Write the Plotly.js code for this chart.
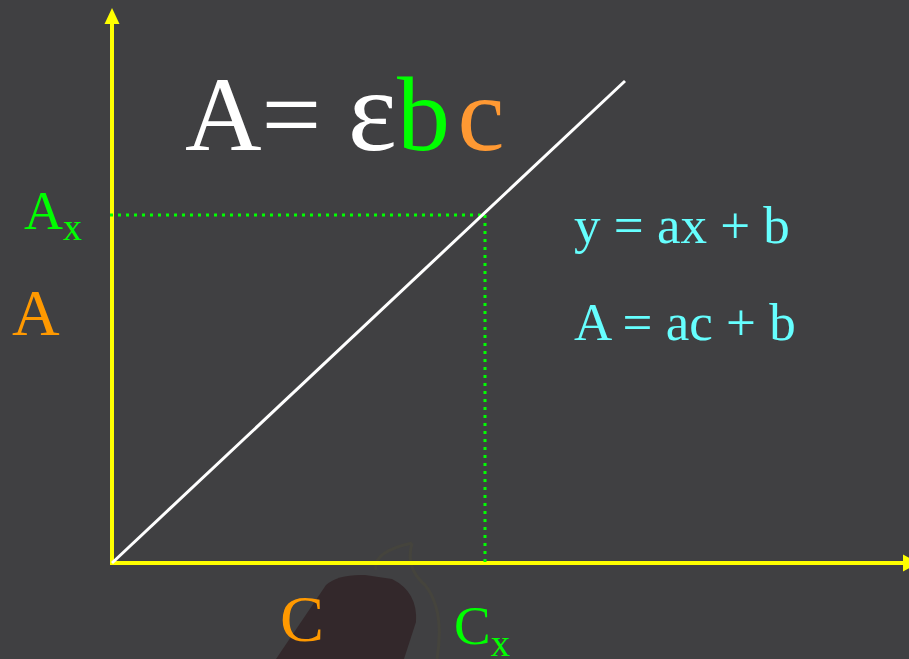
<!DOCTYPE html>
<html>
<head>
<meta charset="utf-8">
<script src="https://cdn.plot.ly/plotly-3.0.1.min.js"></script>
<style>
  html, body { margin: 0; padding: 0; background: #404042; }
  #chart { width: 909px; height: 659px; }
</style>
</head>
<body>
<div id="chart"></div>
<script>
// Beer-Lambert calibration line: absorbance grows linearly with concentration
const concentration = [0, 513];
const absorbance = [0, 482];

// the unknown sample
const sampleConc = [373];
const sampleAbs = [348];

// axis extents (with arrow heads)
const xAxisEnd = 791;
const yAxisEnd = 539;

const BG = '#404042';
const YELLOW = '#ffff00';
const GREEN = '#00ff00';
const ORANGE = '#ff9900';
const CYAN = '#66ffff';
const SERIF = 'Liberation Serif';

// plot area is 909 x 659 with the origin placed 112px from the left and 96px from the bottom
const W = 909, H = 659, OX = 112, OY = 563;
const xRange = [-OX, W - OX];
const yRange = [-(H - OY), OY];
const px = x => x / W;          // pixel -> paper x
const py = y => 1 - y / H;      // pixel -> paper y

const dotted = { color: GREEN, width: 3, dash: '3px,5px' };

const traces = [
  // reading the sample: across from the absorbance axis, then down to the concentration axis
  {
    x: [-2, sampleConc[0]],
    y: [sampleAbs[0], sampleAbs[0]],
    mode: 'lines', line: dotted, hoverinfo: 'skip'
  },
  {
    x: [sampleConc[0], sampleConc[0]],
    y: [sampleAbs[0], 0],
    mode: 'lines', line: dotted, hoverinfo: 'skip'
  },
  {
    x: concentration,
    y: absorbance,
    mode: 'lines',
    line: { color: '#ffffff', width: 3 },
    hoverinfo: 'skip'
  }
];

const label = (text, x, y, size, color) => ({
  text: text,
  x: px(x), y: py(y),
  xref: 'paper', yref: 'paper',
  xanchor: 'left', yanchor: 'top',
  showarrow: false,
  borderpad: 0, borderwidth: 0,
  font: { family: SERIF, size: size, color: color }
});

const layout = {
  width: W, height: H,
  margin: { l: 0, r: 0, t: 0, b: 0 },
  paper_bgcolor: BG,
  plot_bgcolor: BG,
  showlegend: false,
  font: { family: SERIF },
  xaxis: { range: xRange, visible: false, fixedrange: true },
  yaxis: { range: yRange, visible: false, fixedrange: true },
  shapes: [
    // faint logo behind the lower axis
    {
      type: 'path', xref: 'paper', yref: 'paper', layer: 'below',
      path: 'M ' + px(276) + ',' + py(659) + ' L ' + px(326) + ',' + py(585) +
            ' Q ' + px(338) + ',' + py(574) + ' ' + px(365) + ',' + py(575) +
            ' L ' + px(392) + ',' + py(579) + ' Q ' + px(418) + ',' + py(592) + ' ' + px(416) + ',' + py(622) +
            ' L ' + px(404) + ',' + py(659) + ' Z',
      fillcolor: '#33282b', line: { width: 0 }
    },
    {
      type: 'path', xref: 'paper', yref: 'paper', layer: 'below',
      path: 'M ' + px(412) + ',' + py(543) + ' Q ' + px(372) + ',' + py(552) + ' ' + px(376) + ',' + py(570) +
            ' M ' + px(412) + ',' + py(543) + ' Q ' + px(405) + ',' + py(568) + ' ' + px(425) + ',' + py(585) +
            ' Q ' + px(445) + ',' + py(610) + ' ' + px(437) + ',' + py(659),
      line: { color: '#45443d', width: 3 }
    },
    // axes, kept under the plotted lines
    { type: 'line', layer: 'below', x0: 0, y0: -2, x1: 0, y1: yAxisEnd, line: { color: YELLOW, width: 4 } },
    { type: 'line', layer: 'below', x0: -2, y0: 0, x1: xAxisEnd, y1: 0, line: { color: YELLOW, width: 4 } },
    {
      type: 'path', layer: 'below',
      path: 'M -7.5,' + yAxisEnd + ' L 7.5,' + yAxisEnd + ' L 0,' + (yAxisEnd + 16) + ' Z',
      fillcolor: YELLOW, line: { width: 0 }
    },
    {
      type: 'path', layer: 'below',
      path: 'M ' + xAxisEnd + ',-8.5 L ' + xAxisEnd + ',8.5 L ' + (xAxisEnd + 16) + ',0 Z',
      fillcolor: YELLOW, line: { width: 0 }
    }
  ],
  annotations: [
    label('A= <span style="font-size:117px">ε</span><span style="color:' + GREEN + '">b</span>' +
          '<span style="font-size:30px"> </span><span style="color:#ff9933">c</span>',
          185, 46, 106, '#ffffff'),
    label('A<sub>x</sub>', 24, 181, 54, GREEN),
    label('A', 12, 276, 66, ORANGE),
    label('C', 280, 582, 66, ORANGE),
    label('C<sub>x</sub>', 454, 595, 55, GREEN),
    label('y = ax + b', 574, 196, 53, CYAN),
    label('A = ac + b', 574, 293, 53, CYAN)
  ]
};

Plotly.newPlot('chart', traces, layout, { displayModeBar: false, staticPlot: true });
</script>
</body>
</html>
